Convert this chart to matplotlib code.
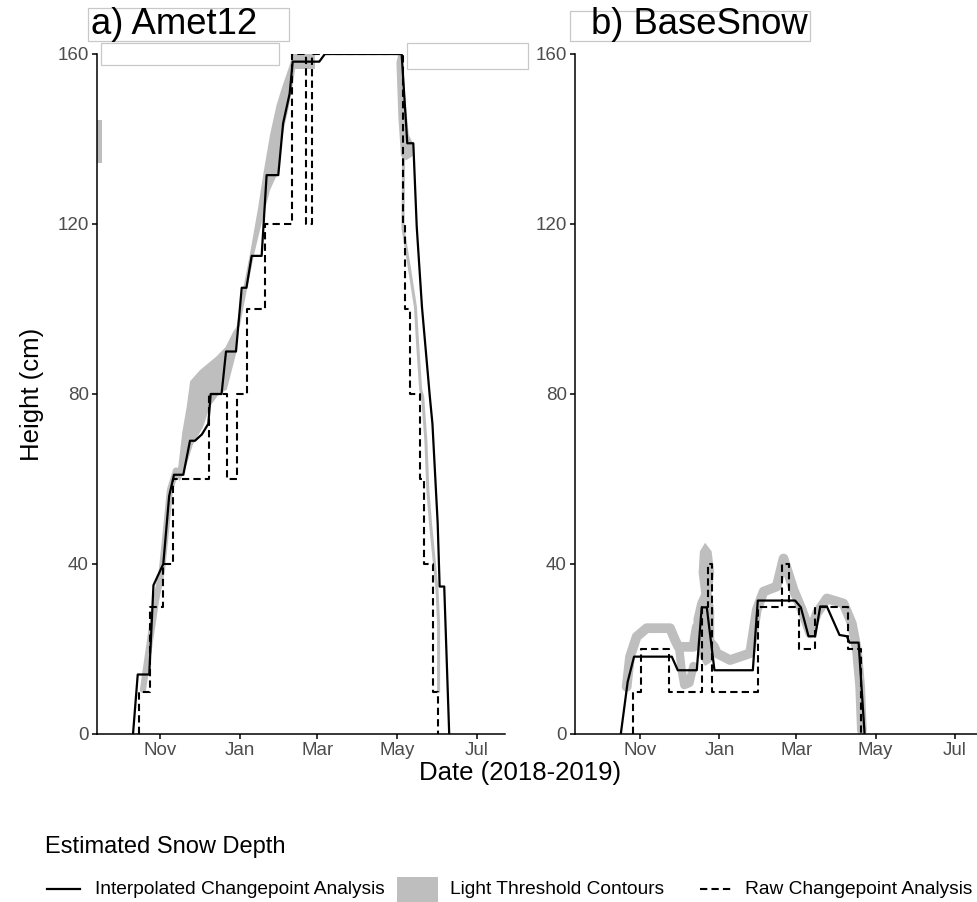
import numpy as np
import matplotlib
matplotlib.use('Agg')
import matplotlib.pyplot as plt
import matplotlib.dates as mdates
from matplotlib.lines import Line2D
from matplotlib.patches import Rectangle

plt.rcParams['font.family'] = ['Liberation Sans', 'DejaVu Sans']

# days counted from 2018-11-01, depth in cm
START = np.datetime64('2018-11-01')

# ---- a) Amet12 ----
interp_a_days = [-20.6, -17, -8.2, -5, -2, 2.5, 7, 10.7, 17.8, 22.9, 26.7, 32, 36.9,
                 38.7, 47, 50.4, 58, 62.4, 66, 70, 77.6, 81.4, 90.3, 94, 99, 101.3,
                 121.6, 125.9, 184.5, 188.8, 193.4, 196, 200, 206, 208, 212, 213.5,
                 217, 220.8]
interp_a_depth = [0, 14, 14, 35, 37, 40, 56, 61, 61, 69, 69, 70.5, 73,
                  80, 80, 90, 90, 105, 105, 112.5, 112.5, 131.5, 131.5, 143.7, 150.7, 158.2,
                  158.2, 160, 160, 139, 139, 119.4, 100.5, 79.4, 73, 49.6, 34.7,
                  34.7, 0]

raw_a_days = [-15.8, -15.8, -7.3, 2.5, 10.2, 37.6, 50.9, 58.5, 66.2, 80.5, 100.5,
              111.5, 116.3, 185.5, 187, 190.8, 198.5, 201.5, 208.2, 212.4]
raw_a_depth = [0, 10, 30, 40, 60, 80, 60, 80, 100, 120, 160,
               120, 160, 120, 100, 80, 60, 40, 10, 0]

# light threshold contours (outlines of grey areas and centre lines of grey strokes)
cont_a_rise_days = [-13, -7.6, -3, 1.5, 4.6, 7.6, 12.2]
cont_a_rise_depth = [10.4, 22, 31.5, 38.6, 48, 57.4, 62]

cont_a_mid_days = [12, 14, 17, 20.4, 23, 30.5, 43, 50, 56, 60,
                   58.5, 51, 45, 38, 33, 25, 19, 15]
cont_a_mid_depth = [61, 63, 71, 77, 83, 85.6, 88.8, 91, 94.7, 96.5,
                    90, 81, 80, 77, 72.3, 68, 62, 59.5]

cont_a_up_days = [58, 63, 68.7, 75, 79, 84, 89, 93, 98, 101.5,
                  104, 103, 101, 98, 95, 92, 90, 84, 79, 72, 66, 61]
cont_a_up_depth = [95, 104, 113, 124, 132, 141, 148, 152, 156.5, 159.8,
                   159.8, 156, 152, 147, 143, 138, 132, 128, 122, 113, 104, 96]

cont_a_top_days = [101, 118, 118, 101]
cont_a_top_depth = [156.5, 156.5, 160, 160]

cont_a_edge_days = [-47.8, -44.3, -44.3, -47.8]
cont_a_edge_depth = [134.4, 134.4, 144.5, 144.5]

cont_a_melt_days = [180.5, 182, 185, 187, 190, 193, 193, 188, 184, 182]
cont_a_melt_depth = [158, 160, 160, 150, 141, 139, 136, 135, 136, 145]

cont_a_tail_days = [186, 185.5, 191, 195, 196.5, 199, 200.5, 203, 204.5, 206.5,
                    211.5, 212.7, 212.7]
cont_a_tail_depth = [136, 119, 108.5, 100.5, 92.7, 81, 79.4, 69, 57.4, 49.6,
                     34, 26, 10]

# ---- b) BaseSnow ----
interp_b_days = [-14.8, -9.5, -4.6, 24.4, 29, 43.6, 47.4, 51.3, 57.2, 86.7, 90.5,
                 119.2, 123.6, 129.5, 134.6, 138.5, 143.6, 153.3, 159, 161, 168, 172.6]
interp_b_depth = [0, 12.3, 18.2, 18.2, 15, 15, 29.8, 29.8, 15, 15, 31.4,
                  31.4, 29.8, 23, 23, 30, 30, 23.3, 23, 21.5, 21.5, 0]

raw_b_days = [-5.6, -5.6, 0.8, 22.5, 47.4, 52, 55, 90.5, 109, 114.8, 121.8,
              134.6, 159.5, 169.8]
raw_b_depth = [0, 10, 20, 10, 30, 40, 10, 30, 40, 30, 20,
               30, 20, 0]

cont_b_main_days = [-10.3, -7.7, -2.6, 5.1, 23.1, 26.9, 29.5, 41, 43.6,
                    57, 59, 69.2, 84.6, 89.7, 94.9, 105, 110.3, 118, 124.4, 130.8,
                    135.9, 143.6, 156.4, 162.8, 166.7, 169.2, 170.5]
cont_b_main_depth = [11.1, 18.2, 22.9, 24.9, 24.9, 22.1, 20.5, 20.5, 25.2,
                     20.5, 19, 17.4, 19, 29.2, 33.5, 34.7, 41.3, 33.9, 29.2, 23.7,
                     28.4, 31.9, 30.7, 26, 19.8, 11.1, 0.9]

cont_b_lobe_days = [30, 32, 34, 38, 41]
cont_b_lobe_depth = [20.5, 15, 11.5, 12, 16]

cont_b_blob_days = [41, 44, 47, 45, 46, 50, 55, 57, 55, 57, 57, 55, 50, 46, 42]
cont_b_blob_depth = [27, 31, 33, 38, 43, 45, 43, 38, 33, 29, 22, 17, 16, 18, 22]

month_ticks = ['2018-11-01', '2019-01-01', '2019-03-01', '2019-05-01', '2019-07-01']
depth_ticks = [0, 40, 80, 120, 160]

GREY = '#bebebe'
W, H = 977, 902


def to_dates(days):
    mins = np.round(np.asarray(days, dtype=float) * 1440).astype('timedelta64[m]')
    return START + mins


def fx(x):
    return x / W


def fy(y):
    return 1 - y / H


fig = plt.figure(figsize=(W / 100, H / 100), dpi=100)
ax_a = fig.add_axes([fx(97), fy(734), 408 / W, 680 / H])
ax_b = fig.add_axes([fx(575), fy(734), 402 / W, 680 / H])

stroke = dict(color=GREY, solid_capstyle='round', solid_joinstyle='round', zorder=1)

# panel a contours
for d, v in [(cont_a_mid_days, cont_a_mid_depth), (cont_a_up_days, cont_a_up_depth),
             (cont_a_top_days, cont_a_top_depth), (cont_a_edge_days, cont_a_edge_depth),
             (cont_a_melt_days, cont_a_melt_depth)]:
    ax_a.fill(to_dates(d), v, color=GREY, lw=0, zorder=1)
ax_a.plot(to_dates(cont_a_rise_days), cont_a_rise_depth, lw=4.5, **stroke)
ax_a.plot(to_dates(cont_a_tail_days), cont_a_tail_depth, lw=2.2, **stroke)

# panel b contours
ax_b.fill(to_dates(cont_b_blob_days), cont_b_blob_depth, color=GREY, lw=0, zorder=1)
ax_b.plot(to_dates(cont_b_main_days), cont_b_main_depth, lw=7, **stroke)
ax_b.plot(to_dates(cont_b_lobe_days), cont_b_lobe_depth, lw=6, **stroke)

dash = (0, (3.5, 2))
for ax, idays, idepth, rdays, rdepth in [
        (ax_a, interp_a_days, interp_a_depth, raw_a_days, raw_a_depth),
        (ax_b, interp_b_days, interp_b_depth, raw_b_days, raw_b_depth)]:
    ax.step(to_dates(rdays), rdepth, where='post', color='black', lw=1.5,
            linestyle=dash, zorder=2)
    ax.plot(to_dates(idays), idepth, color='black', lw=1.6, zorder=3)

ax_a.set_xlim(to_dates([-48.1])[0], to_dates([263.4])[0])
ax_b.set_xlim(to_dates([-50])[0], to_dates([259])[0])

for ax in (ax_a, ax_b):
    ax.set_ylim(0, 160)
    ax.set_yticks(depth_ticks)
    ax.set_xticks(np.array(month_ticks, dtype='datetime64[D]'))
    ax.xaxis.set_major_formatter(mdates.DateFormatter('%b'))
    for s in ('top', 'right'):
        ax.spines[s].set_visible(False)
    for s in ('left', 'bottom'):
        ax.spines[s].set_linewidth(1.1)
        ax.spines[s].set_zorder(5)
    ax.tick_params(length=3.5, width=1.1, colors='black', labelcolor='#4d4d4d',
                   labelsize=13.5, pad=2.5)
    ax.set_facecolor('none')

# titles with their boxes
box = dict(facecolor='white', edgecolor='#c8c8c8', linewidth=0.9,
           transform=fig.transFigure, zorder=10)
for x0, y0, x1, y1 in [(88, 8, 289, 41), (570, 11, 810, 41),
                       (101, 43, 279, 65), (407, 43, 528, 69)]:
    fig.add_artist(Rectangle((fx(x0), fy(y1)), (x1 - x0) / W, (y1 - y0) / H, **box))
fig.text(fx(91), fy(34), 'a) Amet12', fontsize=26.3, va='baseline', ha='left', zorder=11)
fig.text(fx(591), fy(34), 'b) BaseSnow', fontsize=26.3, va='baseline', ha='left', zorder=11)

fig.text(fx(32), fy(394), 'Height (cm)', rotation=90, fontsize=18.5,
         ha='center', va='center')
fig.text(fx(520), fy(773), 'Date (2018-2019)', fontsize=18.5, ha='center', va='center')

# legend
fig.text(fx(45), fy(847), 'Estimated Snow Depth', fontsize=17, ha='left', va='center')
ly = fy(889)
fig.add_artist(Line2D([fx(47), fx(80)], [ly, ly], color='black', lw=1.6))
fig.text(fx(95), ly, 'Interpolated Changepoint Analysis', fontsize=13.8, va='center')
fig.add_artist(Rectangle((fx(397), fy(902)), 41 / W, 25 / H, facecolor=GREY,
                         edgecolor='none', transform=fig.transFigure))
fig.text(fx(450), ly, 'Light Threshold Contours', fontsize=13.8, va='center')
fig.add_artist(Line2D([fx(700), fx(733)], [ly, ly], color='black', lw=1.5,
                      linestyle=dash))
fig.text(fx(745), ly, 'Raw Changepoint Analysis', fontsize=13.8, va='center')

fig.savefig('out.png', dpi=100)
